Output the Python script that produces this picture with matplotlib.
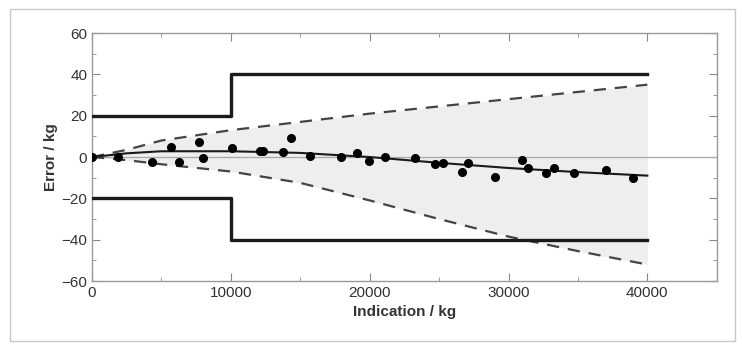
import matplotlib.pyplot as plt
from matplotlib.patches import Rectangle
from matplotlib.ticker import MultipleLocator

plt.rcParams["font.family"] = ["Liberation Sans", "DejaVu Sans"]

# measured points (indication kg, error kg)
indication = [0, 1900, 4300, 5700, 6300, 7700, 8000, 10050, 12100, 12300,
              13750, 14300, 15700, 17950, 19100, 19950, 21100, 23300, 24700,
              25250, 26650, 27050, 29000, 30950, 31400, 32700, 33300, 34700,
              37000, 38950]
error = [0, 0.2, -2.6, 4.8, -2.6, 7.1, -0.7, 4.2, 2.8, 3.0,
         2.6, 9.0, 0.5, 0.2, 2.1, -1.9, 0.2, -0.6, -3.4,
         -3.1, -7.3, -2.7, -9.5, -1.5, -5.2, -7.9, -5.2, -7.6,
         -6.3, -10.3]

# fitted curve and uncertainty envelope
curve_x = [0, 2500, 5000, 10000, 15000, 20000, 25000, 30000, 35000, 40000]
fit = [0, 1.8, 2.8, 2.8, 2.0, 0.0, -2.8, -5.3, -7.3, -9.0]
upper = [0, 3.5, 8.0, 13.0, 17.0, 21.0, 24.5, 28.0, 31.5, 35.0]
lower = [0, -1.5, -3.5, -7.0, -12.5, -21.0, -30.0, -38.5, -45.5, -52.0]

# maximum permissible error limits
mpe_x = [0, 10000, 10000, 40000]
mpe_pos = [20, 20, 40, 40]
mpe_neg = [-20, -20, -40, -40]


def main():
    fig = plt.figure(figsize=(7.42, 3.44), dpi=100)
    fig.patches.append(Rectangle((0.013, 0.01), 0.977, 0.965, transform=fig.transFigure,
                                 fill=False, edgecolor="#c8c8c8", linewidth=1.0))
    ax = fig.add_axes([0.124, 0.183, 0.842, 0.721])

    ax.fill_between(curve_x, lower, upper, color="#eeeeee", linewidth=0, zorder=1)
    ax.axhline(0, color="#a8a8a8", linewidth=0.9, zorder=2)
    ax.plot(curve_x, upper, color="#444444", linestyle=(0, (5.5, 4)), linewidth=1.6, zorder=3)
    ax.plot(curve_x, lower, color="#444444", linestyle=(0, (5.5, 4)), linewidth=1.6, zorder=3)
    ax.plot(mpe_x, mpe_pos, color="#1a1a1a", linewidth=2.4, zorder=4)
    ax.plot(mpe_x, mpe_neg, color="#1a1a1a", linewidth=2.4, zorder=4)
    ax.plot(curve_x, fit, color="#1a1a1a", linewidth=1.5, zorder=4)
    ax.plot(indication, error, "o", color="black", markersize=5.5, zorder=5)

    ax.set_xlim(0, 45000)
    ax.set_ylim(-60, 60)
    ax.set_xticks([0, 10000, 20000, 30000, 40000])
    ax.xaxis.set_minor_locator(MultipleLocator(5000))
    ax.set_yticks([-60, -40, -20, 0, 20, 40, 60])
    ax.yaxis.set_minor_locator(MultipleLocator(10))
    ax.tick_params(which="both", direction="in", top=True, right=True,
                   color="#888888", labelsize=11, labelcolor="#333333")
    ax.tick_params(which="major", length=6)
    ax.tick_params(which="minor", length=3)
    for spine in ax.spines.values():
        spine.set_color("#999999")
        spine.set_linewidth(1.0)

    ax.set_xlabel("Indication / kg", fontsize=11, fontweight="bold", color="#333333")
    ax.set_ylabel("Error / kg", fontsize=11, fontweight="bold", color="#333333", labelpad=2)

    fig.savefig("out.png", dpi=100)


if __name__ == "__main__":
    main()
